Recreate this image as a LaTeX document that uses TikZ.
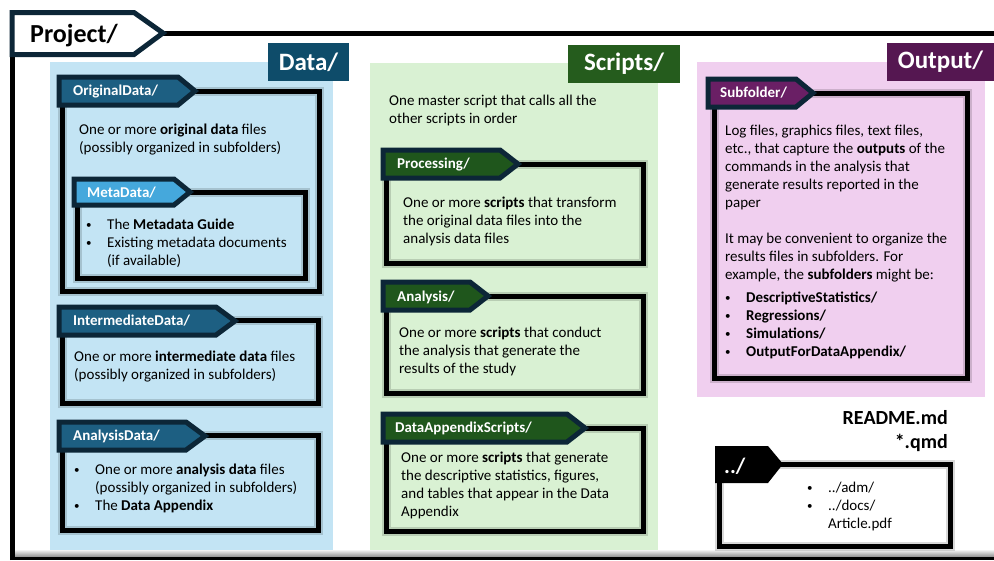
\documentclass[tikz,border=0pt]{standalone}
\usepackage{fontspec}
\setmainfont{Carlito}
\usetikzlibrary{positioning}

\definecolor{tabnavy}{HTML}{0C2637}
\definecolor{datapanel}{HTML}{C3E4F4}
\definecolor{datalabel}{HTML}{0E4C6A}
\definecolor{datatab}{HTML}{1D5F82}
\definecolor{metatab}{HTML}{45A8DC}
\definecolor{scriptpanel}{HTML}{D9F1D3}
\definecolor{scriptlabel}{HTML}{255C1D}
\definecolor{scripttab}{HTML}{1F561C}
\definecolor{outpanel}{HTML}{F0CFEF}
\definecolor{outlabel}{HTML}{551751}
\definecolor{outtab}{HTML}{6A1F65}

\newcommand{\bul}{\makebox[21pt][l]{\raisebox{0.8pt}{\fontsize{11}{12}\selectfont\textbullet}}}

\begin{document}
\begin{tikzpicture}[x=1pt,y=-1pt,
    folderlabel/.style={text=white, font=\bfseries\fontsize{25}{28}\selectfont, inner sep=0pt},
    foldertab/.style={draw=tabnavy, line width=5pt, line join=miter},
    tabtext/.style={text=white, font=\bfseries\fontsize{15}{18}\selectfont, anchor=base west, inner sep=0pt},
    box/.style={draw=black, line width=5pt, preaction={draw=black, line width=9pt, opacity=0.15}},
    body/.style={font=\fontsize{15}{18}\selectfont, anchor=north west, inner sep=0pt, align=left}
  ]
    \useasboundingbox (0,0) rectangle (994,560);

    % project frame
    \shade[top color=white, bottom color=black!45] (12,549) rectangle (994,557);
    \draw[line width=3pt] (12,558.5) -- (994,558.5);
    \draw[line width=5pt] (12.5,560) -- (12.5,50);
    \draw[line width=5pt] (160,33) -- (994,33);
    \draw[foldertab, fill=white] (12,12.5) -- (134,12.5) -- (163,33) -- (134,54.5) -- (12,54.5) -- cycle;
    \node[anchor=base west, inner sep=0pt, font=\bfseries\fontsize{26}{30}\selectfont] (project) at (30,42) {Project/};

    % Data/
    \fill[datapanel] (50,62) rectangle (333,550);
    \node[folderlabel, fill=datalabel, minimum width=81pt, minimum height=38pt] (datalbl) at (308.5,62) {Data/};

    \draw[box] (190,91) -- (319,91) -- (319,291) -- (62.5,291) -- (62.5,100);
    \draw[foldertab, fill=datatab] (59,77) -- (178,77) -- (195,91) -- (178,105) -- (59,105) -- cycle;
    \node[tabtext] (origtab) at (73,95) {OriginalData/};
    \node[body] (origtxt) at (79,124) {One or more \textbf{original data} files\\(possibly organized in subfolders)};

    \draw[box] (186,192) -- (305,192) -- (305,278) -- (77.5,278) -- (77.5,200);
    \draw[foldertab, fill=metatab] (74,179) -- (174,179) -- (190,192) -- (174,205) -- (74,205) -- cycle;
    \node[tabtext] (metatab) at (87,197) {MetaData/};
    \node[body] (metatxt) at (86,219) {\bul The \textbf{Metadata Guide}\\\bul Existing metadata documents\\\hspace*{21pt}(if available)};

    \draw[box] (230,320) -- (318.5,320) -- (318.5,403) -- (62.5,403) -- (62.5,330);
    \draw[foldertab, fill=datatab] (59,307) -- (216,307) -- (235,321) -- (216,335) -- (59,335) -- cycle;
    \node[tabtext] (intertab) at (73,325) {IntermediateData/};
    \node[body] (intertxt) at (74,351) {One or more \textbf{intermediate data} files\\(possibly organized in subfolders)};

    \draw[box] (200,435) -- (318.5,435) -- (318.5,530) -- (62.5,530) -- (62.5,445);
    \draw[foldertab, fill=datatab] (59,422) -- (186,422) -- (205,436) -- (186,450) -- (59,450) -- cycle;
    \node[tabtext] (anadatatab) at (73,440) {AnalysisData/};
    \node[body] (anadatatxt) at (74,464) {\bul One or more \textbf{analysis data} files\\\hspace*{21pt}(possibly organized in subfolders)\\\bul The \textbf{Data Appendix}};

    % Scripts/
    \fill[scriptpanel] (370,63) rectangle (658,550);
    \node[folderlabel, fill=scriptlabel, minimum width=112pt, minimum height=38pt] (scriptlbl) at (624,64) {Scripts/};
    \node[body] (mastertxt) at (389,95) {One master script that calls all the\\other scripts in order};

    \draw[box] (515,164) -- (643,164) -- (643,263) -- (386.5,263) -- (386.5,175);
    \draw[foldertab, fill=scripttab] (383,150) -- (500,150) -- (518,164) -- (500,178) -- (383,178) -- cycle;
    \node[tabtext] (proctab) at (397,168) {Processing/};
    \node[body] (proctxt) at (403,197) {One or more \textbf{scripts} that transform\\the original data files into the\\analysis data files};

    \draw[box] (485,296) -- (643,296) -- (643,393) -- (386.5,393) -- (386.5,305);
    \draw[foldertab, fill=scripttab] (383,282) -- (470,282) -- (488,296) -- (470,310) -- (383,310) -- cycle;
    \node[tabtext] (anatab) at (397,301) {Analysis/};
    \node[body] (anatxt) at (399,327) {One or more \textbf{scripts} that conduct\\the analysis that generate the\\results of the study};

    \draw[box] (582,428) -- (643,428) -- (643,531) -- (386.5,531) -- (386.5,437);
    \draw[foldertab, fill=scripttab] (383,414) -- (567,414) -- (585,428) -- (567,442) -- (383,442) -- cycle;
    \node[tabtext] (apptab) at (395,432) {DataAppendixScripts/};
    \node[body] (apptxt) at (401,452) {One or more \textbf{scripts} that generate\\the descriptive statistics, figures,\\and tables that appear in the Data\\Appendix};

    % Output/
    \fill[outpanel] (697,62) rectangle (985,397);
    \node[folderlabel, fill=outlabel, minimum width=107pt, minimum height=38pt] (outlbl) at (940.5,62) {Output/};

    \draw[box] (810,93) -- (967,93) -- (967,378) -- (714.5,378) -- (714.5,102);
    \draw[foldertab, fill=outtab] (708,79) -- (796,79) -- (813,93) -- (796,107) -- (708,107) -- cycle;
    \node[tabtext] (subtab) at (720,97) {Subfolder/};
    \node[body] (subtxt) at (725,125) {Log files, graphics files, text files,\\etc., that capture the \textbf{outputs} of the\\commands in the analysis that\\generate results reported in the\\paper\\[18pt]It may be convenient to organize the\\results files in subfolders. For\\example, the \textbf{subfolders} might be:};
    \node[body, below=9pt of subtxt.south west, anchor=north west] (sublist) {\bul\textbf{DescriptiveStatistics/}\\\bul\textbf{Regressions/}\\\bul\textbf{Simulations/}\\\bul\textbf{OutputForDataAppendix/}};

    % readme and parent folder
    \node[anchor=north east, inner sep=0pt, align=right, font=\bfseries\fontsize{20}{24}\selectfont] (readme) at (948,410) {README.md\\*.qmd};

    \draw[box] (775,464) -- (950,464) -- (950,546) -- (719.5,546) -- (719.5,475);
    \fill[black] (715,446) -- (768,446) -- (783,464) -- (768,483) -- (715,483) -- cycle;
    \node[anchor=base west, inner sep=0pt, text=white, font=\bfseries\fontsize{22}{26}\selectfont] (parent) at (724,473) {../};
    \node[body] (parenttxt) at (807,482) {\bul ../adm/\\\bul ../docs/\\\hspace*{21pt}Article.pdf};
\end{tikzpicture}
\end{document}
